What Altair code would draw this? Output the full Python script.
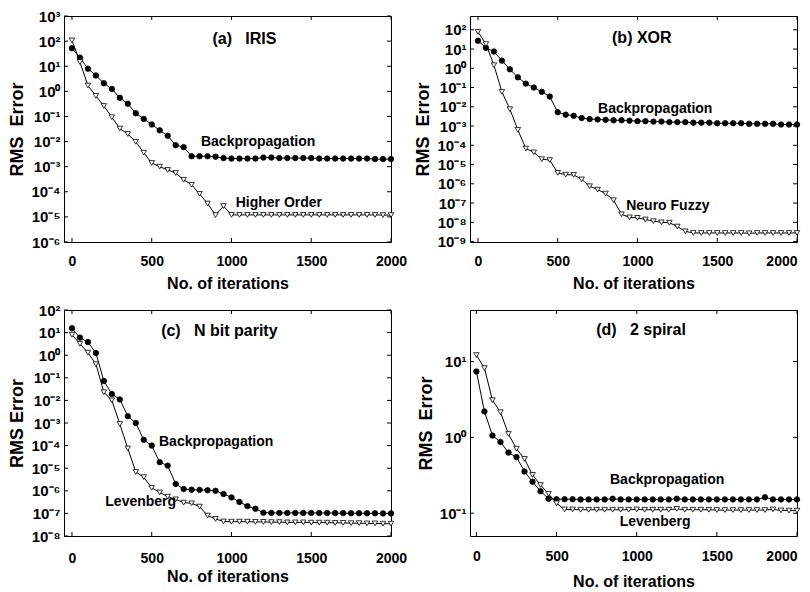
import altair as alt
import pandas as pd

FONT = "Liberation Sans"
W, H = 327, 226

iters = list(range(0, 2001, 50))
xticks = [0, 500, 1000, 1500, 2000]

# (a) IRIS
a_bp = [52, 22, 8, 4.3, 2.1, 1.25, 0.55, 0.32, 0.134, 0.08,
        0.048, 0.028, 0.017, 0.0072, 0.006, 0.0026, 0.0026, 0.0026, 0.0025, 0.0022,
        0.0021, 0.0021, 0.0021, 0.0021, 0.0023, 0.0023, 0.0022, 0.0022, 0.0022, 0.0022,
        0.0022, 0.0021, 0.0021, 0.0021, 0.0021, 0.0021, 0.0021, 0.0021, 0.002, 0.002, 0.002]
a_ho = [107, 14.7, 1.7, 0.66, 0.26, 0.093, 0.033, 0.02, 0.0098, 0.0036,
        0.0014, 0.001, 0.00074, 0.00056, 0.0003, 0.00019, 8.3e-5, 3.4e-5, 1.17e-5, 2.7e-5,
        1.2e-5, 1.2e-5, 1.2e-5, 1.2e-5, 1.2e-5, 1.2e-5, 1.2e-5, 1.2e-5, 1.2e-5, 1.2e-5,
        1.2e-5, 1.2e-5, 1.2e-5, 1.2e-5, 1.2e-5, 1.2e-5, 1.2e-5, 1.2e-5, 1.2e-5, 1.18e-5, 1.18e-5]

# (b) XOR
b_bp = [27, 11.5, 7.4, 2.5, 0.88, 0.34, 0.16, 0.1, 0.06, 0.034,
        0.0052, 0.0039, 0.0034, 0.0026, 0.0023, 0.0022, 0.0021, 0.0020, 0.0020, 0.0019,
        0.0018, 0.0018, 0.0017, 0.0017, 0.0016, 0.0016, 0.0016, 0.0015, 0.0015, 0.0015,
        0.0014, 0.0014, 0.0014, 0.0014, 0.0013, 0.0013, 0.0013, 0.0013, 0.0012, 0.0012, 0.0012]
b_nf = [78, 18, 1.45, 0.06, 0.0075, 6.3e-4, 6.8e-5, 4.3e-5, 1.9e-5, 1.7e-5,
        3.7e-6, 3e-6, 2.9e-6, 1.7e-6, 7.5e-7, 5e-7, 3.1e-7, 1.4e-7, 2.6e-8, 1.8e-8,
        1.7e-8, 1.4e-8, 1.15e-8, 1.0e-8, 9.5e-9, 6e-9, 3.4e-9, 2.8e-9, 2.8e-9, 2.8e-9,
        2.8e-9, 2.8e-9, 2.8e-9, 2.8e-9, 2.7e-9, 2.8e-9, 2.8e-9, 2.8e-9, 2.8e-9, 2.8e-9, 2.8e-9]

# (c) N bit parity
c_bp = [15.5, 6, 3.8, 1.25, 0.072, 0.019, 0.011, 0.002, 0.001, 1.8e-4,
        1.0e-4, 1.85e-5, 1.3e-5, 2e-6, 1.2e-6, 1.12e-6, 1.1e-6, 1.06e-6, 1.0e-6, 7.2e-7,
        5.1e-7, 3.2e-7, 2.1e-7, 1.6e-7, 1.07e-7, 1.05e-7, 1.05e-7, 1.05e-7, 1.05e-7, 1.05e-7,
        1.05e-7, 1.04e-7, 1.04e-7, 1.03e-7, 1.03e-7, 1.02e-7, 1.02e-7, 1.01e-7, 1.01e-7, 1.0e-7, 1.0e-7]
c_lm = [8, 3.2, 1.3, 0.4, 0.023, 0.01, 9e-4, 7.5e-5, 6.8e-6, 4e-6,
        1.35e-6, 8.5e-7, 5.5e-7, 4.2e-7, 3.0e-7, 2.8e-7, 2.0e-7, 8e-8, 5.7e-8, 4.4e-8,
        4.3e-8, 4.3e-8, 4.3e-8, 4.2e-8, 4.2e-8, 4.1e-8, 4.1e-8, 4.0e-8, 4.0e-8, 4.0e-8,
        3.9e-8, 3.9e-8, 3.9e-8, 3.8e-8, 3.8e-8, 3.7e-8, 3.7e-8, 3.6e-8, 3.6e-8, 3.5e-8, 3.5e-8]

# (d) 2 spiral
d_bp = [7.4, 2.2, 1.06, 0.87, 0.63, 0.55, 0.355, 0.26, 0.195, 0.155,
        0.153, 0.153, 0.153, 0.152, 0.152, 0.152, 0.152, 0.155, 0.152, 0.152,
        0.152, 0.152, 0.152, 0.152, 0.152, 0.155, 0.152, 0.152, 0.152, 0.152,
        0.152, 0.152, 0.152, 0.152, 0.152, 0.152, 0.162, 0.152, 0.152, 0.152, 0.152]
d_lm = [12.2, 8.2, 3.1, 2.15, 1.11, 0.71, 0.52, 0.32, 0.235, 0.18,
        0.135, 0.112, 0.112, 0.111, 0.111, 0.111, 0.111, 0.111, 0.111, 0.111,
        0.112, 0.111, 0.111, 0.111, 0.111, 0.114, 0.111, 0.111, 0.111, 0.111,
        0.110, 0.110, 0.110, 0.110, 0.110, 0.110, 0.110, 0.112, 0.109, 0.108, 0.108]

SUP = ['⁻⁹', '⁻⁸', '⁻⁷', '⁻⁶', '⁻⁵', '⁻⁴', '⁻³', '⁻²', '⁻¹', '⁰', '¹', '²', '³']
LABEL_EXPR = "'10' + [" + ",".join("'" + s + "'" for s in SUP) + "][round(log(datum.value)/LN10) + 9]"


def panel(vals1, vals2, ydom, yticks, xdom, ytitle, texts, tx, ty, tsize,
          xlabpad, xtitley, flush=False):
    df = pd.DataFrame({
        'iter': iters + iters,
        'err': vals1 + vals2,
        'series': ['bp'] * len(vals1) + ['other'] * len(vals2),
    })
    x = alt.X('iter:Q',
              scale=alt.Scale(domain=xdom, nice=False, zero=False),
              axis=alt.Axis(values=xticks, title='No. of iterations', ticks=False, tickSize=0,
                            domain=False, grid=False, labelPadding=xlabpad, labelFlush=flush,
                            labelBaseline='middle', titleY=xtitley, titleBaseline='middle',
                            labelFont=FONT, labelFontSize=14,
                            labelFontWeight='bold', titleFont=FONT, titleFontSize=16,
                            titleFontWeight='bold', labelColor='black', titleColor='black',
                            format='d'))
    y = alt.Y('err:Q',
              scale=alt.Scale(type='log', domain=ydom, nice=False),
              axis=alt.Axis(values=yticks, labelExpr=LABEL_EXPR, title=ytitle, ticks=False,
                            tickSize=0, domain=False, grid=False, labelPadding=4,
                            labelFlush=False, titlePadding=4, labelFont=FONT, labelFontSize=15,
                            labelFontWeight='bold', titleFont=FONT, titleFontSize=18,
                            titleFontWeight='bold', labelColor='black', titleColor='black'))
    lines = alt.Chart(df).mark_line(color='black', strokeWidth=1).encode(
        x=x, y=y, detail='series:N')
    pts = alt.Chart(df).mark_point(stroke='black', strokeWidth=0.8, size=30, opacity=1,
                                   fillOpacity=1).encode(
        x=x, y=y,
        shape=alt.Shape('series:N', scale=alt.Scale(domain=['bp', 'other'],
                                                    range=['circle', 'triangle-down']),
                        legend=None),
        fill=alt.Fill('series:N', scale=alt.Scale(domain=['bp', 'other'],
                                                  range=['black', 'white']),
                      legend=None))
    xt = pd.DataFrame({'iter': xticks})
    yt = pd.DataFrame({'err': yticks})
    tb = alt.Chart(xt).mark_rule(color='black').encode(x=x, y=alt.value(H), y2=alt.value(H - 4))
    tt = alt.Chart(xt).mark_rule(color='black').encode(x=x, y=alt.value(0), y2=alt.value(4))
    tl = alt.Chart(yt).mark_rule(color='black').encode(y=y, x=alt.value(0), x2=alt.value(4))
    tr = alt.Chart(yt).mark_rule(color='black').encode(y=y, x=alt.value(W), x2=alt.value(W - 4))
    tdf = pd.DataFrame({'iter': tx, 'err': ty, 'txt': texts, 'size': tsize})
    txt = alt.Chart(tdf).mark_text(font=FONT, fontWeight='bold', color='black',
                                   align='center', baseline='middle').encode(
        x=x, y=y, text='txt:N', size=alt.Size('size:Q', scale=None, legend=None))
    return alt.layer(lines, pts, tb, tt, tl, tr, txt).properties(width=W, height=H)


NB = '\u00a0'
pa = panel(a_bp, a_ho, [1e-6, 1e3], [1e-6, 1e-5, 1e-4, 1e-3, 1e-2, 1e-1, 1, 10, 100, 1000],
           [-50, 2000], 'RMS' + NB * 2 + 'Error',
           ['(a)' + NB * 3 + 'IRIS', 'Backpropagation', 'Higher Order'],
           [1081, 1167, 1297], [126, 0.0096, 3.5e-5], [16, 14, 14],
           xlabpad=19, xtitley=41)
pb = panel(b_bp, b_nf, [9.5e-10, 520],
           [1e-9, 1e-8, 1e-7, 1e-6, 1e-5, 1e-4, 1e-3, 1e-2, 1e-1, 1, 10, 100],
           [-50, 2000], 'RMS' + NB * 2 + 'Error',
           ['(b) XOR', 'Backpropagation', 'Neuro Fuzzy'],
           [1027, 1111, 1190], [36, 0.0076, 6.8e-8], [16, 14, 14],
           xlabpad=19, xtitley=41, flush=True)
pc = panel(c_bp, c_lm, [1e-8, 100], [1e-8, 1e-7, 1e-6, 1e-5, 1e-4, 1e-3, 1e-2, 1e-1, 1, 10, 100],
           [-50, 2000], 'RMS Error',
           ['(c)' + NB * 3 + 'N bit parity', 'Backpropagation', 'Levenberg'],
           [924, 904, 431], [11.7, 1.5e-4, 3.2e-7], [16, 14, 14],
           xlabpad=22, xtitley=40)
pd_ = panel(d_bp, d_lm, [0.05, 48], [0.1, 1, 10],
            [-40, 2000], 'RMS' + NB * 2 + 'Error',
            ['(d)' + NB * 3 + '2 spiral', 'Backpropagation', 'Levenberg'],
            [1027, 1190, 1115], [26, 0.275, 0.0764], [16, 14, 14],
            xlabpad=20, xtitley=45, flush=True)

chart = alt.concat(pa, pb, pc, pd_, columns=2,
                   spacing=alt.RowColnumber(row=68, column=79),
                   bounds='flush').configure_view(
    stroke='black', strokeWidth=1).properties(
    padding={'left': 0, 'top': 0, 'right': 0, 'bottom': 0}, background='white')

chart.save("out.html", embed_options={"renderer": "svg", "actions": False})
